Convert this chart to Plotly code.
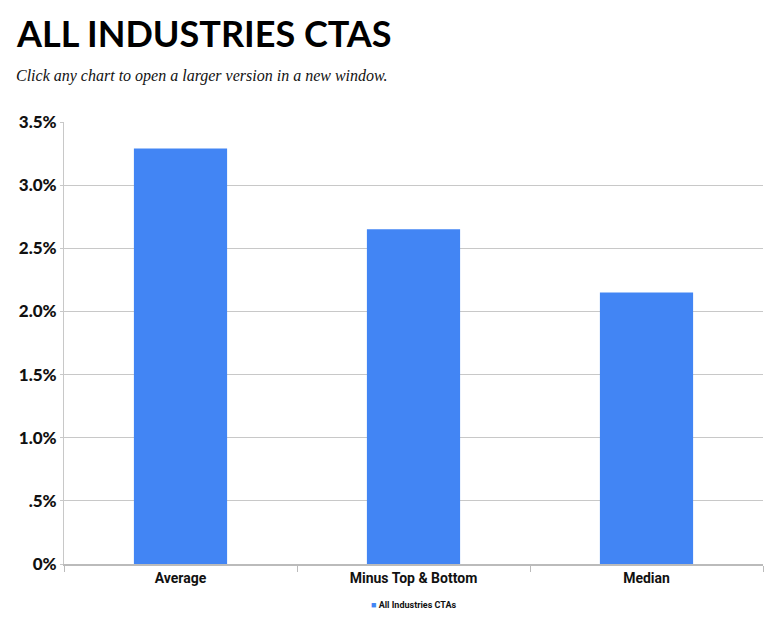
import plotly.graph_objects as go

categories = ["Average", "Minus Top & Bottom", "Median"]
values = [3.29, 2.65, 2.15]
series_name = "All Industries CTAs"
bar_color = "#4285f4"
tick_vals = [0, 0.5, 1.0, 1.5, 2.0, 2.5, 3.0, 3.5]
tick_text = ["0%", ".5%", "1.0%", "1.5%", "2.0%", "2.5%", "3.0%", "3.5%"]

L, R, T, B = 64, 14, 122, 53
W, H = 777, 617
PW, PH = W - L - R, H - T - B

def px(x):
    return (x - L) / PW

def py(y):
    return (H - B - y) / PH

fig = go.Figure()
fig.add_trace(go.Bar(
    x=categories, y=values, name=series_name,
    marker=dict(color=bar_color, line=dict(width=0)),
    showlegend=False,
))

fig.update_layout(
    width=W, height=H,
    margin=dict(l=L, r=R, t=T, b=B, autoexpand=False),
    paper_bgcolor="white", plot_bgcolor="white",
    bargap=0.6,
    font=dict(family="Lato, Roboto, sans-serif", color="#111"),
    xaxis=dict(
        tickson="boundaries", ticks="outside", ticklen=6, tickcolor="#bbb",
        showline=True, linecolor="#bbb", linewidth=2,
        tickfont=dict(size=14, family="Roboto", weight="bold", color="#111"),
        showgrid=False, automargin=False,
    ),
    yaxis=dict(
        range=[0, 3.5], tickvals=tick_vals, ticktext=tick_text,
        showgrid=True, gridcolor="#c8c8c8", gridwidth=1,
        showline=True, linecolor="#c8c8c8", linewidth=1,
        ticks="outside", ticklen=3, tickcolor="#c8c8c8",
        tickfont=dict(size=17, family="Lato", weight=900, color="#111"),
        zeroline=False, automargin=False,
    ),
)
fig.add_annotation(
    text="<b>ALL INDUSTRIES CTAS</b>", xref="paper", yref="paper",
    x=px(14), y=py(9), xanchor="left", yanchor="top",
    showarrow=False, font=dict(size=36, family="Lato", weight=900, color="black"),
)
fig.add_annotation(
    text="<i>Click any chart to open a larger version in a new window.</i>", xref="paper", yref="paper",
    x=px(14), y=py(65), xanchor="left", yanchor="top",
    showarrow=False, font=dict(size=16, family="Liberation Serif", color="#111"),
)
fig.add_annotation(
    text=f"<span style='color:{bar_color}'>■</span> <b>{series_name}</b>", xref="paper", yref="paper",
    x=0.5, y=py(605), xanchor="center", yanchor="middle",
    showarrow=False, font=dict(size=9, family="Roboto", color="#111"),
)

fig.write_html("out.html")
